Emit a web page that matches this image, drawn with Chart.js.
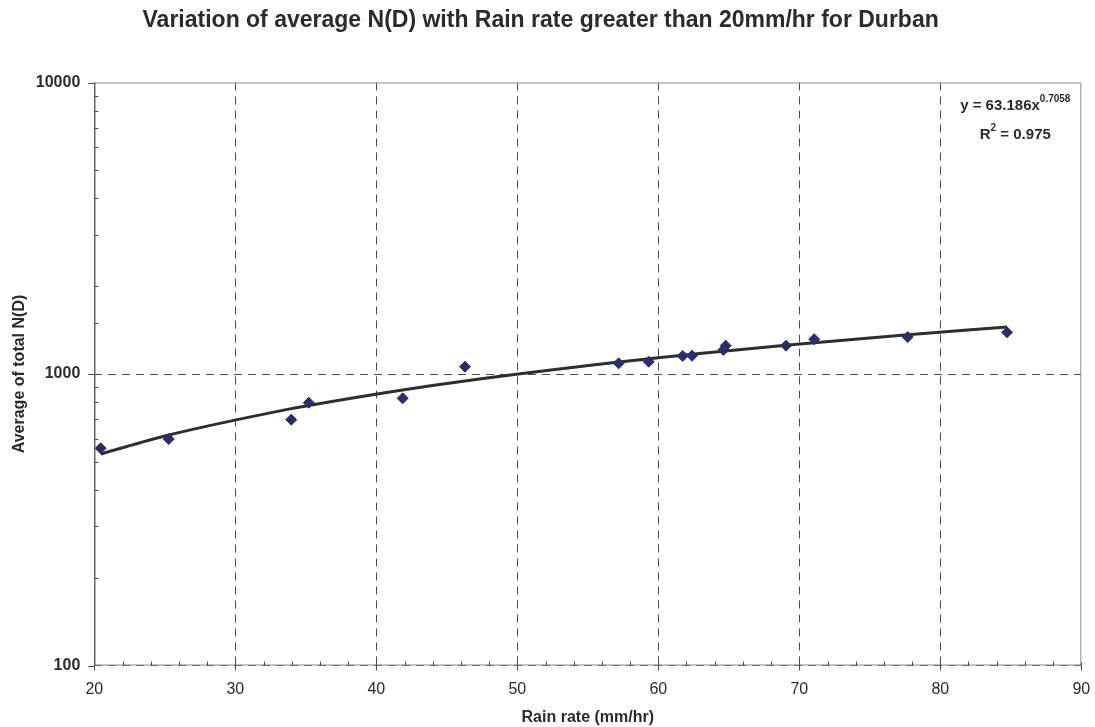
<!DOCTYPE html>
<html>
<head>
<meta charset="utf-8">
<title>Durban N(D) vs rain rate</title>
<script src="https://cdn.jsdelivr.net/npm/chart.js@4/dist/chart.umd.min.js"></script>
<style>
  body { margin: 0; background: #fff; }
  #wrap { width: 1095px; height: 727px; }
</style>
</head>
<body>
<div id="wrap"><canvas id="ndChart"></canvas></div>
<script>
// measured points: rain rate (mm/hr) and average total N(D)
const rainRate = [20.45, 25.28, 33.97, 35.21, 41.87, 46.29, 57.19, 59.32, 61.73, 62.39, 64.61, 64.78, 69.06, 71.06, 77.69, 84.73];
const avgND    = [556, 598, 697, 797, 825, 1059, 1088, 1102, 1153, 1155, 1209, 1251, 1251, 1316, 1339, 1390];

// axis labels
const xTickLabels = [20, 30, 40, 50, 60, 70, 80, 90];
const yTickLabels = [100, 1000, 10000];

// power-law fit y = a * x^b
const fitA = 63.186;
const fitB = 0.7058;
const fitR2 = 0.975;

const FONT = "'Liberation Sans', Arial, sans-serif";
const TEXT = '#2b2b2b';

const isPow10 = v => Math.abs(Math.log10(v) - Math.round(Math.log10(v))) < 1e-9;

const scatterData = rainRate.map((x, i) => ({ x: x, y: avgND[i] }));
const fitData = rainRate.map(x => ({ x: x, y: fitA * Math.pow(x, fitB) }));

// plot frame, tick marks and the fit equation box
const framePlugin = {
  id: 'frame',
  beforeDatasetsDraw(chart) {
    const { ctx, chartArea: a, scales: { x, y } } = chart;
    ctx.save();
    ctx.strokeStyle = '#938c8c';
    ctx.lineWidth = 1;
    ctx.strokeRect(a.left + 0.5, a.top + 0.5, a.right - a.left - 1, a.bottom - a.top - 1);

    ctx.strokeStyle = '#4a4a4a';
    ctx.beginPath();
    ctx.moveTo(a.left + 0.5, a.top);
    ctx.lineTo(a.left + 0.5, a.bottom);
    ctx.stroke();

    ctx.beginPath();
    y.ticks.forEach(t => {
      const py = Math.round(y.getPixelForValue(t.value)) + 0.5;
      if (isPow10(t.value)) {
        ctx.moveTo(a.left - 6, py);
        ctx.lineTo(a.left, py);
      } else {
        ctx.moveTo(a.left, py);
        ctx.lineTo(a.left + 4, py);
      }
    });
    x.ticks.forEach(t => {
      const px = Math.round(x.getPixelForValue(t.value)) + 0.5;
      if (t.value % 10 === 0) {
        ctx.moveTo(px, a.bottom - 3);
        ctx.lineTo(px, a.bottom + 5);
      } else {
        ctx.moveTo(px, a.bottom - 4);
        ctx.lineTo(px, a.bottom);
      }
    });
    ctx.stroke();
    ctx.restore();
  },
  afterDraw(chart) {
    const { ctx, chartArea: a } = chart;
    const cx = a.right - 66;
    ctx.save();
    ctx.fillStyle = TEXT;
    ctx.textBaseline = 'middle';

    // line 1: y = 63.186x^0.7058
    const main1 = 'y = ' + fitA + 'x';
    const sup1 = String(fitB);
    ctx.font = 'bold 15px ' + FONT;
    const w1 = ctx.measureText(main1).width;
    ctx.font = 'bold 10px ' + FONT;
    const s1 = ctx.measureText(sup1).width;
    let left = cx - (w1 + s1) / 2;
    ctx.textAlign = 'left';
    ctx.font = 'bold 15px ' + FONT;
    ctx.fillText(main1, left, a.top + 23);
    ctx.font = 'bold 10px ' + FONT;
    ctx.fillText(sup1, left + w1, a.top + 17);

    // line 2: R^2 = 0.975
    const r = 'R';
    const rest = ' = ' + fitR2;
    ctx.font = 'bold 15px ' + FONT;
    const wr = ctx.measureText(r).width;
    const wrest = ctx.measureText(rest).width;
    ctx.font = 'bold 10px ' + FONT;
    const ws = ctx.measureText('2').width;
    left = cx - (wr + ws + wrest) / 2;
    ctx.font = 'bold 15px ' + FONT;
    ctx.fillText(r, left, a.top + 52);
    ctx.fillText(rest, left + wr + ws, a.top + 52);
    ctx.font = 'bold 10px ' + FONT;
    ctx.fillText('2', left + wr, a.top + 46);
    ctx.restore();
  }
};

const ctx = document.getElementById('ndChart').getContext('2d');

new Chart(ctx, {
  type: 'scatter',
  data: {
    datasets: [
      {
        label: 'Average N(D)',
        data: scatterData,
        pointStyle: 'rectRot',
        pointRadius: 5.5,
        borderWidth: 1,
        backgroundColor: '#2c2c6a',
        borderColor: '#2c2c6a',
        order: 1
      },
      {
        label: 'Power fit',
        type: 'line',
        data: fitData,
        borderColor: '#2e2e2e',
        borderWidth: 3,
        pointRadius: 0,
        cubicInterpolationMode: 'monotone',
        fill: false,
        order: 2
      }
    ]
  },
  options: {
    responsive: true,
    maintainAspectRatio: false,
    animation: false,
    layout: { padding: { left: 0, right: 13.7, top: 0, bottom: 0 } },
    plugins: {
      legend: { display: false },
      tooltip: { enabled: false },
      title: {
        display: true,
        text: 'Variation of average N(D) with Rain rate greater than 20mm/hr for Durban',
        color: TEXT,
        font: { family: FONT, size: 23, weight: 'bold' },
        padding: { top: 7, bottom: 47.9 }
      }
    },
    scales: {
      x: {
        type: 'linear',
        min: 20,
        max: 90,
        afterFit: s => {
          s.height = 61.5;
          s.paddingLeft = 0;
          s.paddingRight = 0;
        },
        afterBuildTicks: s => {
          const t = [];
          for (let v = 20; v <= 90; v += 2) t.push({ value: v });
          s.ticks = t;
        },
        ticks: {
          autoSkip: false,
          maxRotation: 0,
          padding: 14,
          color: TEXT,
          font: { family: FONT, size: 16 },
          callback: v => xTickLabels.includes(v) ? String(v) : ''
        },
        grid: {
          drawTicks: false,
          lineWidth: 1,
          color: c => (c.tick && c.tick.value % 10 === 0 && c.tick.value > 20 && c.tick.value < 90) ? '#4a4a4a' : 'rgba(0,0,0,0)'
        },
        border: { display: false, dash: [8, 6] },
        title: {
          display: true,
          text: 'Rain rate (mm/hr)',
          color: TEXT,
          font: { family: FONT, size: 16, weight: 'bold' },
          padding: { top: 0, bottom: 0 }
        }
      },
      y: {
        type: 'logarithmic',
        min: 100,
        max: 10000,
        afterFit: s => {
          s.width = 94.3;
          s.paddingTop = 0;
          s.paddingBottom = 0;
        },
        ticks: {
          autoSkip: false,
          padding: 14,
          color: TEXT,
          font: { family: FONT, size: 16, weight: 'bold' },
          callback: v => yTickLabels.includes(v) ? String(v) : ''
        },
        grid: {
          drawTicks: false,
          lineWidth: 1,
          color: c => (c.tick && isPow10(c.tick.value) && c.tick.value < 10000) ? '#4a4a4a' : 'rgba(0,0,0,0)'
        },
        border: { display: false, dash: [8, 6] },
        title: {
          display: true,
          text: 'Average of total N(D)',
          color: TEXT,
          font: { family: FONT, size: 16, weight: 'bold' },
          padding: { top: 9.5, bottom: 0 }
        }
      }
    }
  },
  plugins: [framePlugin]
});
</script>
</body>
</html>
